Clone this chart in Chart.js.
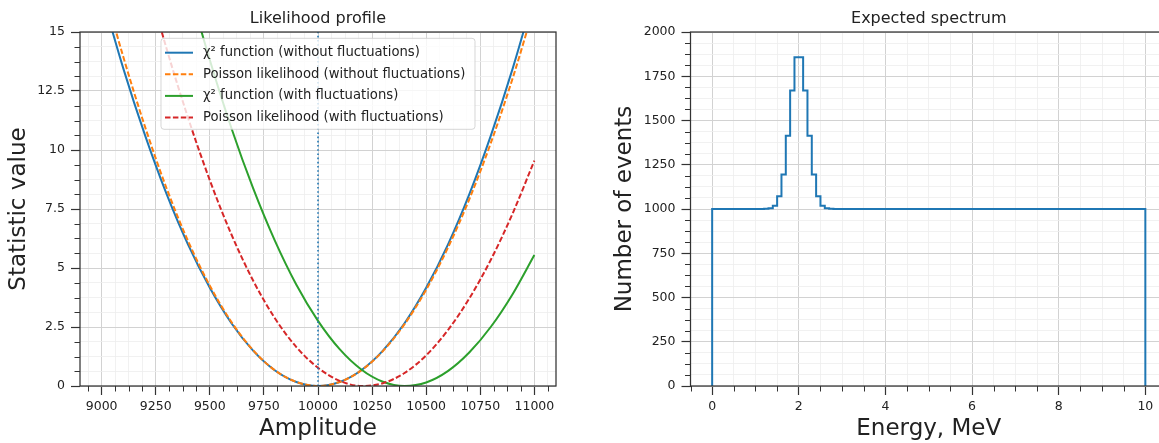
<!DOCTYPE html>
<html>
<head>
<meta charset="utf-8">
<script src="https://cdn.jsdelivr.net/npm/chart.js@4.4.0/dist/chart.umd.min.js"></script>
<style>
html, body { margin: 0; padding: 0; background: #fff; overflow: hidden; width: 1159px; height: 443px; }
#left { position: absolute; left: 0; top: 0; }
#right { position: absolute; left: 600px; top: 0; }
</style>
</head>
<body>
<canvas id="left" width="580" height="443"></canvas>
<canvas id="right" width="580" height="443"></canvas>
<script>
// amplitude grid of the likelihood scan
const amplitude = [9000, 9100, 9200, 9300, 9400, 9500, 9600, 9700, 9800, 9900, 10000,
                   10100, 10200, 10300, 10400, 10500, 10600, 10700, 10800, 10900, 11000];
const chi2NoFluct    = [16.62, 13.46, 10.64, 8.14, 5.98, 4.16, 2.66, 1.50, 0.67, 0.17, 0.00,
                        0.17, 0.67, 1.50, 2.66, 4.16, 5.98, 8.14, 10.64, 13.46, 16.62];
const poissonNoFluct = [17.2, 13.95, 11.0, 8.38, 6.13, 4.25, 2.71, 1.52, 0.67, 0.17, 0.00,
                        0.17, 0.66, 1.48, 2.62, 4.08, 5.85, 7.93, 10.33, 13.05, 16.1];
const chi2Fluct      = [33.3, 28.7, 24.5, 20.6, 17.04, 13.81, 10.92, 8.38, 6.17, 4.29, 2.76,
                        1.56, 0.70, 0.18, 0.00, 0.15, 0.63, 1.43, 2.52, 3.90, 5.55];
const poissonFluct   = [25.4, 21.3, 17.6, 14.3, 11.35, 8.72, 6.42, 4.47, 2.88, 1.65, 0.77,
                        0.22, 0.00, 0.12, 0.55, 1.30, 2.36, 3.72, 5.37, 7.32, 9.55];
const trueAmplitude = 10000;

// expected spectrum: left edges of constant runs (MeV) and counts in each run
const binEdges  = [0, 1.2, 1.3, 1.4, 1.5, 1.6, 1.7, 1.8, 1.9, 2.0, 2.1, 2.2, 2.3, 2.4, 2.5, 2.6, 2.7, 2.8, 10];
const binCounts = [1000, 1001, 1004, 1018, 1072, 1195, 1414, 1670, 1857, 1857, 1670, 1414, 1195, 1072, 1018, 1004, 1001, 1000];

// tick labels
const leftXTicks  = [9000, 9250, 9500, 9750, 10000, 10250, 10500, 10750, 11000];
const leftYTicks  = [0, 2.5, 5, 7.5, 10, 12.5, 15];
const rightXTicks = [0, 2, 4, 6, 8, 10];
const rightYTicks = [0, 250, 500, 750, 1000, 1250, 1500, 1750, 2000];

const C0 = '#1f77b4', C1 = '#ff7f0e', C2 = '#2ca02c', C3 = '#d62728';
const TEXT = '#222222';
Chart.defaults.font.family = "'DejaVu Sans', sans-serif";
Chart.defaults.color = TEXT;

function tickValues(min, max, majors, minorStep) {
    const out = majors.map(v => ({ value: v, isMajor: true }));
    for (let i = Math.ceil(min / minorStep - 1e-9); i * minorStep <= max + 1e-9; i++) {
        const v = i * minorStep;
        if (!majors.some(m => Math.abs(m - v) < 1e-9)) out.push({ value: v, isMajor: false });
    }
    return out.sort((a, b) => a.value - b.value);
}

function axis(min, max, majors, minorStep, title, isX, titlePad) {
    return {
        type: 'linear', min, max,
        afterBuildTicks: s => { s.ticks = tickValues(min, max, majors, minorStep); },
        afterFit: s => { if (isX) s.height = 57; else s.width = s.options.fitWidth; },
        ticks: {
            autoSkip: false, maxRotation: 0, minRotation: 0,
            padding: isX ? 4 : 6,
            font: { size: 12.5 },
            color: TEXT,
            callback: (v, i, t) => t[i].isMajor ? String(v) : ''
        },
        grid: {
            color: c => c.tick && c.tick.isMajor ? '#d2d2d2' : '#eeeeee',
            lineWidth: c => c.tick && c.tick.isMajor ? 1 : 0.8,
            tickColor: c => c.tick && c.tick.isMajor ? '#333' : 'rgba(0,0,0,0)',
            tickWidth: 1.2,
            tickLength: 9
        },
        border: { display: false },
        title: { display: true, text: title, font: { size: 23 }, color: TEXT,
                 padding: isX ? { top: 0, bottom: 0 } : { top: titlePad, bottom: 0 } }
    };
}

// spines, minor ticks and legend
const frame = {
    id: 'frame',
    afterDatasetsDraw(chart, args, opts) {
        const { ctx, chartArea: a } = chart;
        ctx.save();
        ctx.strokeStyle = '#333';
        ctx.lineWidth = 1;
        ['x', 'y'].forEach(id => {
            const s = chart.scales[id];
            s.ticks.forEach(t => {
                if (t.isMajor) return;
                const p = Math.round(s.getPixelForValue(t.value)) + 0.5;
                ctx.beginPath();
                if (id === 'x') { ctx.moveTo(p, a.bottom); ctx.lineTo(p, a.bottom + 5.5); }
                else { ctx.moveTo(a.left, p); ctx.lineTo(a.left - 5.5, p); }
                ctx.stroke();
            });
        });
        ctx.lineWidth = 1.25;
        ctx.strokeRect(a.left, a.top, a.right - a.left, a.bottom - a.top);

        if (opts.legend) {
            const L = opts.legend;
            const x0 = a.left + L.dx, y0 = a.top + L.dy;
            ctx.beginPath();
            ctx.roundRect(x0, y0, L.w, L.h, 3);
            ctx.fillStyle = 'rgba(255,255,255,0.8)';
            ctx.fill();
            ctx.strokeStyle = 'rgba(204,204,204,0.8)';
            ctx.lineWidth = 1;
            ctx.stroke();
            ctx.font = "13.2px 'DejaVu Sans'";
            ctx.textBaseline = 'middle';
            ctx.fillStyle = TEXT;
            chart.data.datasets.filter(d => d.inLegend).forEach((d, i) => {
                const y = y0 + 14.4 + i * 21.6;
                ctx.save();
                ctx.strokeStyle = d.borderColor;
                ctx.lineWidth = d.borderWidth;
                ctx.setLineDash(d.borderDash || []);
                ctx.beginPath();
                ctx.moveTo(x0 + 4, y);
                ctx.lineTo(x0 + 32, y);
                ctx.stroke();
                ctx.restore();
                ctx.fillText(d.label, x0 + 42, y);
            });
        }
        ctx.restore();
    }
};

const pts = ys => amplitude.map((a, i) => ({ x: a, y: ys[i] }));
const curve = (label, ys, color, dashed, order) => ({
    label, data: pts(ys), borderColor: color, borderWidth: 2, borderDash: dashed ? [5.5, 2.4] : [],
    pointRadius: 0, cubicInterpolationMode: 'monotone', inLegend: true, order
});

new Chart(document.getElementById('left'), {
    type: 'line',
    data: {
        datasets: [
            curve('χ² function (without fluctuations)', chi2NoFluct, C0, false, 4),
            curve('Poisson likelihood (without fluctuations)', poissonNoFluct, C1, true, 3),
            curve('χ² function (with fluctuations)', chi2Fluct, C2, false, 2),
            curve('Poisson likelihood (with fluctuations)', poissonFluct, C3, true, 1),
            { label: 'true', data: [{ x: trueAmplitude, y: 0 }, { x: trueAmplitude, y: 15 }],
              borderColor: C0, borderWidth: 1.6, borderDash: [1.6, 2.6], pointRadius: 0, order: 0 }
        ]
    },
    options: {
        responsive: false, animation: false,
        layout: { padding: { top: 0, right: 24, left: 0, bottom: 0 } },
        scales: {
            x: axis(8900, 11100, leftXTicks, 62.5, 'Amplitude', true),
            y: Object.assign(axis(0, 15, leftYTicks, 0.625, 'Statistic value', false, 5), { fitWidth: 80 })
        },
        plugins: {
            legend: { display: false }, tooltip: { enabled: false },
            title: { display: true, text: 'Likelihood profile', fullSize: false, color: TEXT,
                     font: { size: 16, weight: 'normal' }, padding: { top: 8.8, bottom: 4 } },
            frame: { legend: { dx: 81, dy: 6.3, w: 314, h: 91 } }
        }
    },
    plugins: [frame]
});

// step outline of the spectrum
const stepPts = [{ x: binEdges[0], y: 0 }];
binCounts.forEach((c, i) => stepPts.push({ x: binEdges[i], y: c }));
stepPts.push({ x: binEdges[binEdges.length - 1], y: binCounts[binCounts.length - 1] });
stepPts.push({ x: binEdges[binEdges.length - 1], y: 0 });

new Chart(document.getElementById('right'), {
    type: 'line',
    data: {
        datasets: [{ label: 'spectrum', data: stepPts, stepped: 'before', borderColor: C0,
                     borderWidth: 2, pointRadius: 0 }]
    },
    options: {
        responsive: false, animation: false,
        layout: { padding: { top: 0, right: 13, left: 0, bottom: 0 } },
        scales: {
            x: axis(-0.5, 10.5, rightXTicks, 0.5, 'Energy, MeV', true),
            y: Object.assign(axis(0, 2000, rightYTicks, 62.5, 'Number of events', false, 11.5), { fitWidth: 90.5 })
        },
        plugins: {
            legend: { display: false }, tooltip: { enabled: false },
            title: { display: true, text: 'Expected spectrum', fullSize: false, color: TEXT,
                     font: { size: 16, weight: 'normal' }, padding: { top: 8.8, bottom: 4 } },
            frame: {}
        }
    },
    plugins: [frame]
});
</script>
</body>
</html>
